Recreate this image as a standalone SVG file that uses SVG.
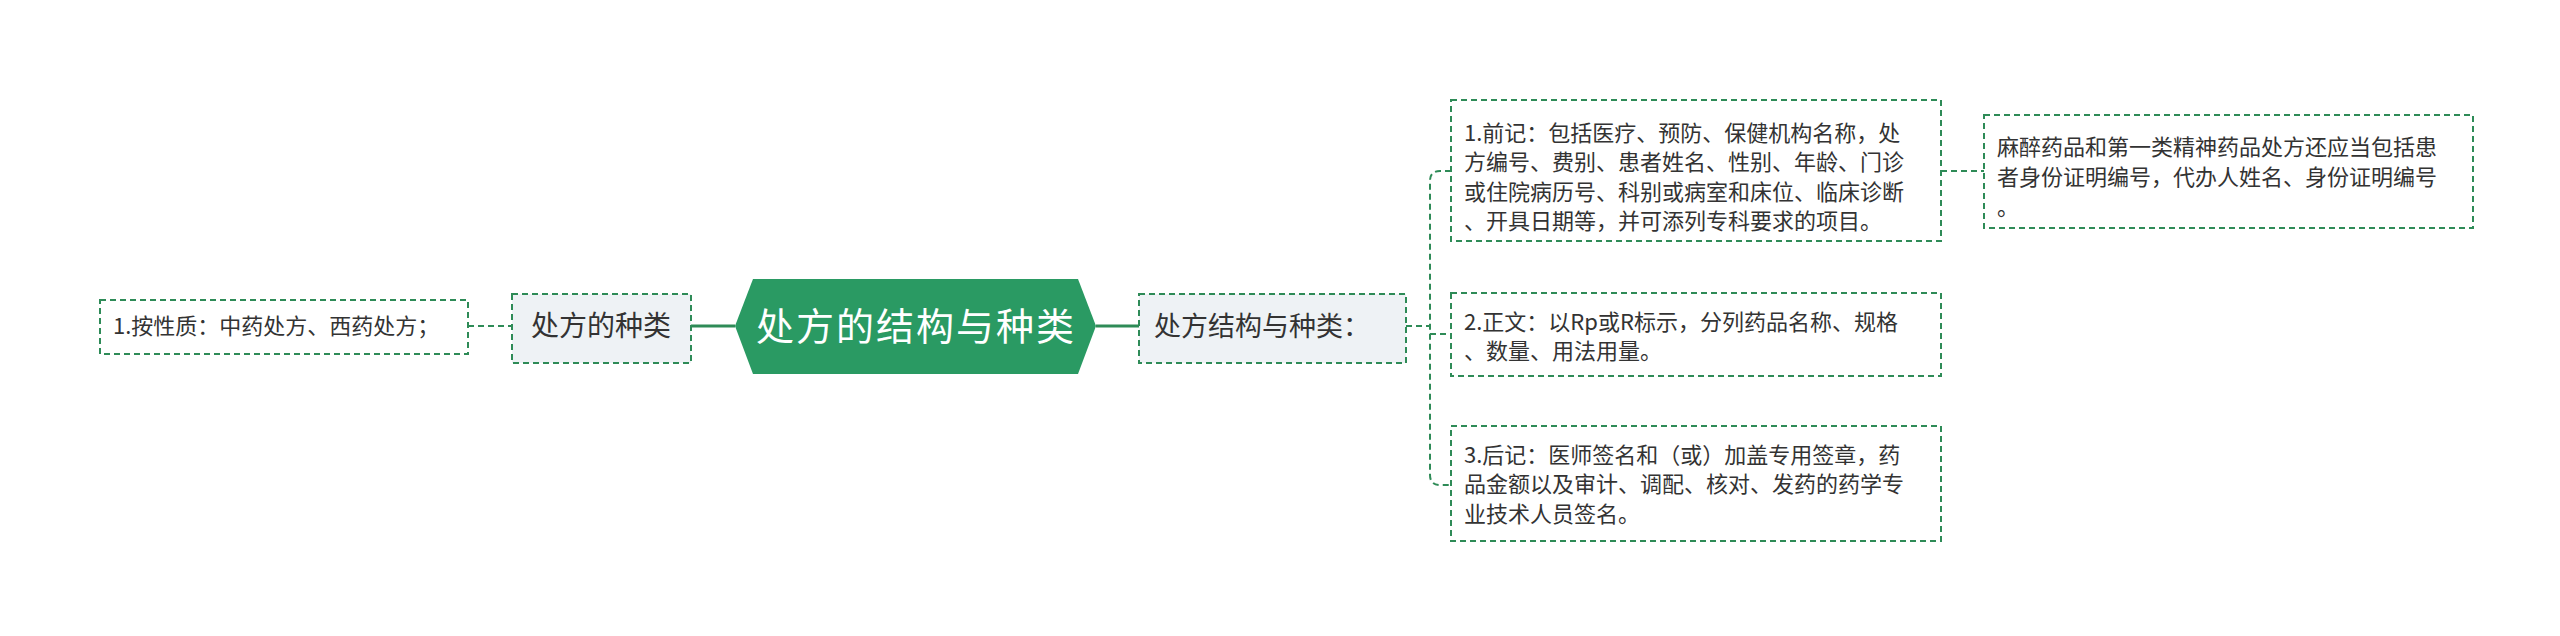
<svg xmlns="http://www.w3.org/2000/svg" width="2560" height="636" viewBox="0 0 2560 636">
<style>
.box{fill:#fff;stroke:#2e8b57;stroke-width:2;stroke-dasharray:6 4}
.gbox{fill:#eef2f5;stroke:#2e8b57;stroke-width:2;stroke-dasharray:6 4}
.t{font-family:"Noto Sans CJK SC","Noto Sans",sans-serif;fill:#333}
.s{font-size:22px}
.dash{fill:none;stroke:#2e8b57;stroke-width:2;stroke-dasharray:6 4}
.solid{fill:none;stroke:#2e8b57;stroke-width:3}
</style>
<rect width="2560" height="636" fill="#fff"/>
<g id="connectors">
<path class="solid" d="M691 326H735M1096 326H1139"/>
<path class="dash" d="M468 326H512"/>
<path class="dash" d="M1406 326H1430M1451 171H1440Q1430 171 1430 181V475Q1430 485 1440 485H1451M1430 334H1451"/>
<path class="dash" d="M1941 171H1984"/>
</g>
<g id="center">
<polygon points="735,326 753,279 1078,279 1096,326 1078,374 753,374" fill="#2a9a63"/>
<text class="t" x="915" y="340" font-size="38" text-anchor="middle" fill="#fff" style="fill:#fff" textLength="318">处方的结构与种类</text>
</g>
<g id="kinds">
<rect class="gbox" x="512" y="294" width="179" height="69"/>
<text class="t" x="601" y="336" font-size="28" text-anchor="middle">处方的种类</text>
</g>
<g id="nature">
<rect class="box" x="100" y="300" width="368" height="54"/>
<text class="t s" x="113" y="334">1.按性质：中药处方、西药处方；</text>
</g>
<g id="structure">
<rect class="gbox" x="1139" y="294" width="267" height="69"/>
<text class="t" x="1154" y="336" font-size="27">处方结构与种类：</text>
</g>
<g id="pre">
<rect class="box" x="1451" y="100" width="490" height="141"/>
<text class="t s" x="1464" y="141">1.前记：包括医疗、预防、保健机构名称，处</text>
<text class="t s" x="1464" y="170">方编号、费别、患者姓名、性别、年龄、门诊</text>
<text class="t s" x="1464" y="200">或住院病历号、科别或病室和床位、临床诊断</text>
<text class="t s" x="1464" y="229">、开具日期等，并可添列专科要求的项目。</text>
</g>
<g id="extra">
<rect class="box" x="1984" y="115" width="489" height="113"/>
<text class="t s" x="1997" y="155">麻醉药品和第一类精神药品处方还应当包括患</text>
<text class="t s" x="1997" y="185">者身份证明编号，代办人姓名、身份证明编号</text>
<text class="t s" x="1997" y="215">。</text>
</g>
<g id="body">
<rect class="box" x="1451" y="293" width="490" height="83"/>
<text class="t s" x="1464" y="330">2.正文：以Rp或R标示，分列药品名称、规格</text>
<text class="t s" x="1464" y="359">、数量、用法用量。</text>
</g>
<g id="post">
<rect class="box" x="1451" y="426" width="490" height="115"/>
<text class="t s" x="1464" y="463">3.后记：医师签名和（或）加盖专用签章，药</text>
<text class="t s" x="1464" y="492">品金额以及审计、调配、核对、发药的药学专</text>
<text class="t s" x="1464" y="522">业技术人员签名。</text>
</g>
</svg>
